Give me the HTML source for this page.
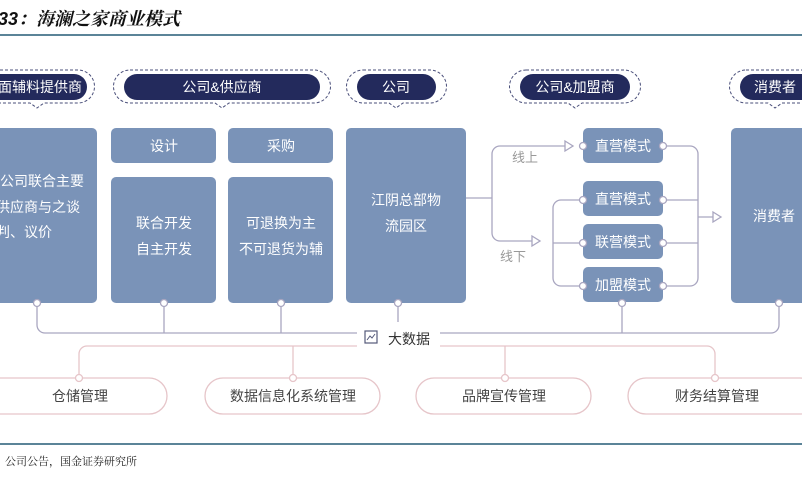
<!DOCTYPE html>
<html><head><meta charset="utf-8"><style>
body{margin:0;background:#fff;}
svg{display:block;font-family:"Liberation Sans","Noto Sans CJK SC",sans-serif;}
</style></head><body>
<svg width="802" height="480" viewBox="0 0 802 480" xmlns="http://www.w3.org/2000/svg">
<text x="-20" y="25" font-size="18" font-weight="bold" font-style="italic" fill="#111" font-family="Liberation Sans,Noto Serif CJK SC,serif">表33：海澜之家商业模式</text>
<rect x="0" y="34" width="802" height="2" fill="#5b8498"/>
<rect x="0" y="443" width="802" height="2" fill="#5b8498"/>
<text x="-28" y="465" font-size="11" fill="#222" font-family="Noto Serif CJK SC,serif">来源：公司公告，国金证券研究所</text>

<g fill="none" stroke="#4a4f7a" stroke-width="1" stroke-dasharray="3,2">
<path d="M-20,70 H78 A16,16 0 0 1 78,103 H44 L37,108 L30,103 H-20"/>
<path d="M130,70 H314 A16,16 0 0 1 314,103 H229 L222,108 L215,103 H130 A16,16 0 0 1 130,70Z"/>
<path d="M363,70 H430 A16,16 0 0 1 430,103 H403 L396,108 L389,103 H363 A16,16 0 0 1 363,70Z"/>
<path d="M526,70 H624 A16,16 0 0 1 624,103 H582 L575,108 L568,103 H526 A16,16 0 0 1 526,70Z"/>
<path d="M746,70 H820 M820,103 H782 L775,108 L768,103 H746 A16,16 0 0 1 746,70"/>
</g>
<g fill="#232a5c">
<rect x="-20" y="74" width="107" height="26" rx="13"/>
<rect x="124" y="74" width="196" height="26" rx="13"/>
<rect x="357" y="74" width="79" height="26" rx="13"/>
<rect x="520" y="74" width="110" height="26" rx="13"/>
<rect x="740" y="74" width="80" height="26" rx="13"/>
</g>
<g fill="#fff" font-size="14" text-anchor="middle">
<text x="40" y="92">面辅料提供商</text>
<text x="222" y="92">公司&amp;供应商</text>
<text x="396" y="92">公司</text>
<text x="575" y="92">公司&amp;加盟商</text>
<text x="775" y="92">消费者</text>
</g>

<g fill="#7a93b8">
<rect x="-20" y="128" width="117" height="175" rx="5"/>
<rect x="111" y="128" width="105" height="35" rx="5"/>
<rect x="111" y="177" width="105" height="126" rx="5"/>
<rect x="228" y="128" width="105" height="35" rx="5"/>
<rect x="228" y="177" width="105" height="126" rx="5"/>
<rect x="346" y="128" width="120" height="175" rx="5"/>
<rect x="583" y="128" width="80" height="35" rx="5"/>
<rect x="583" y="181" width="80" height="35" rx="5"/>
<rect x="583" y="224" width="80" height="35" rx="5"/>
<rect x="583" y="267" width="80" height="35" rx="5"/>
<rect x="731" y="128" width="90" height="175" rx="5"/>
</g>
<g fill="#fff" font-size="14">
<text x="-14" y="186">与公司联合主要</text>
<text x="-4" y="212">供应商与之谈</text>
<text x="-4" y="237">判、议价</text>
<g text-anchor="middle">
<text x="164" y="151">设计</text>
<text x="164" y="228">联合开发</text>
<text x="164" y="254">自主开发</text>
<text x="281" y="151">采购</text>
<text x="281" y="228">可退换为主</text>
<text x="281" y="254">不可退货为辅</text>
<text x="406" y="205">江阴总部物</text>
<text x="406" y="231">流园区</text>
<text x="623" y="151">直营模式</text>
<text x="623" y="204">直营模式</text>
<text x="623" y="247">联营模式</text>
<text x="623" y="290">加盟模式</text>
<text x="774" y="221">消费者</text>
</g></g>

<g fill="none" stroke="#a9a6c0" stroke-width="1.3">
<path d="M466,198 H492"/>
<path d="M565,146 H500 A8,8 0 0 0 492,154 V233 A8,8 0 0 0 500,241 H540"/>
<path d="M583,200 H561 A8,8 0 0 0 553,208 V278 A8,8 0 0 0 561,286 H583 M553,243 H583"/>
<path d="M663,146 H690 A8,8 0 0 1 698,154 V278 A8,8 0 0 1 690,286 H663 M663,200 H698 M663,243 H698 M698,217 H715"/>
<path d="M37,303 V325 A8,8 0 0 0 45,333 H357 M440,333 H771 A8,8 0 0 0 779,325 V303 M164,303 V333 M281,303 V333 M398,303 V322 M622,303 V333"/>
</g>
<g fill="#fff" stroke="#a9a6c0" stroke-width="1.3">
<path d="M565,141 L573,146 L565,151Z"/><path d="M532,236 L540,241 L532,246Z"/><path d="M713,212 L721,217 L713,222Z"/>
<circle cx="583" cy="146" r="3.5"/><circle cx="663" cy="146" r="3.5"/>
<circle cx="583" cy="200" r="3.5"/><circle cx="663" cy="200" r="3.5"/>
<circle cx="583" cy="243" r="3.5"/><circle cx="663" cy="243" r="3.5"/>
<circle cx="583" cy="286" r="3.5"/><circle cx="663" cy="286" r="3.5"/>
<circle cx="37" cy="303" r="3.5"/><circle cx="164" cy="303" r="3.5"/><circle cx="281" cy="303" r="3.5"/>
<circle cx="398" cy="303" r="3.5"/><circle cx="622" cy="303" r="3.5"/><circle cx="779" cy="303" r="3.5"/>
</g>
<g fill="#999" font-size="13"><text x="512" y="162">线上</text><text x="500" y="261">线下</text></g>

<rect x="365" y="331" width="12" height="12" fill="#fff" stroke="#555a7a" stroke-width="1.2"/>
<path d="M367,340 L370,336 L372,338 L375,334" stroke="#555a7a" fill="none"/>
<text x="388" y="344" font-size="14" fill="#333">大数据</text>

<g fill="none" stroke="#e6c5c9" stroke-width="1.3">
<path d="M357,346 H87 A8,8 0 0 0 79,354 V378 M440,346 H707 A8,8 0 0 1 715,354 V378 M293,346 V378 M505,346 V378"/>
<rect x="-20" y="378" width="187" height="36" rx="18"/>
<rect x="205" y="378" width="175" height="36" rx="18"/>
<rect x="416" y="378" width="175" height="36" rx="18"/>
<rect x="628" y="378" width="190" height="36" rx="18"/>
</g>
<g fill="#fff" stroke="#e6c5c9" stroke-width="1.3">
<circle cx="79" cy="378" r="3.5"/><circle cx="293" cy="378" r="3.5"/><circle cx="505" cy="378" r="3.5"/><circle cx="715" cy="378" r="3.5"/>
</g>
<g fill="#444" font-size="14" text-anchor="middle">
<text x="80" y="401">仓储管理</text>
<text x="293" y="401">数据信息化系统管理</text>
<text x="504" y="401">品牌宣传管理</text>
<text x="717" y="401">财务结算管理</text>
</g>
</svg>
</body></html>
